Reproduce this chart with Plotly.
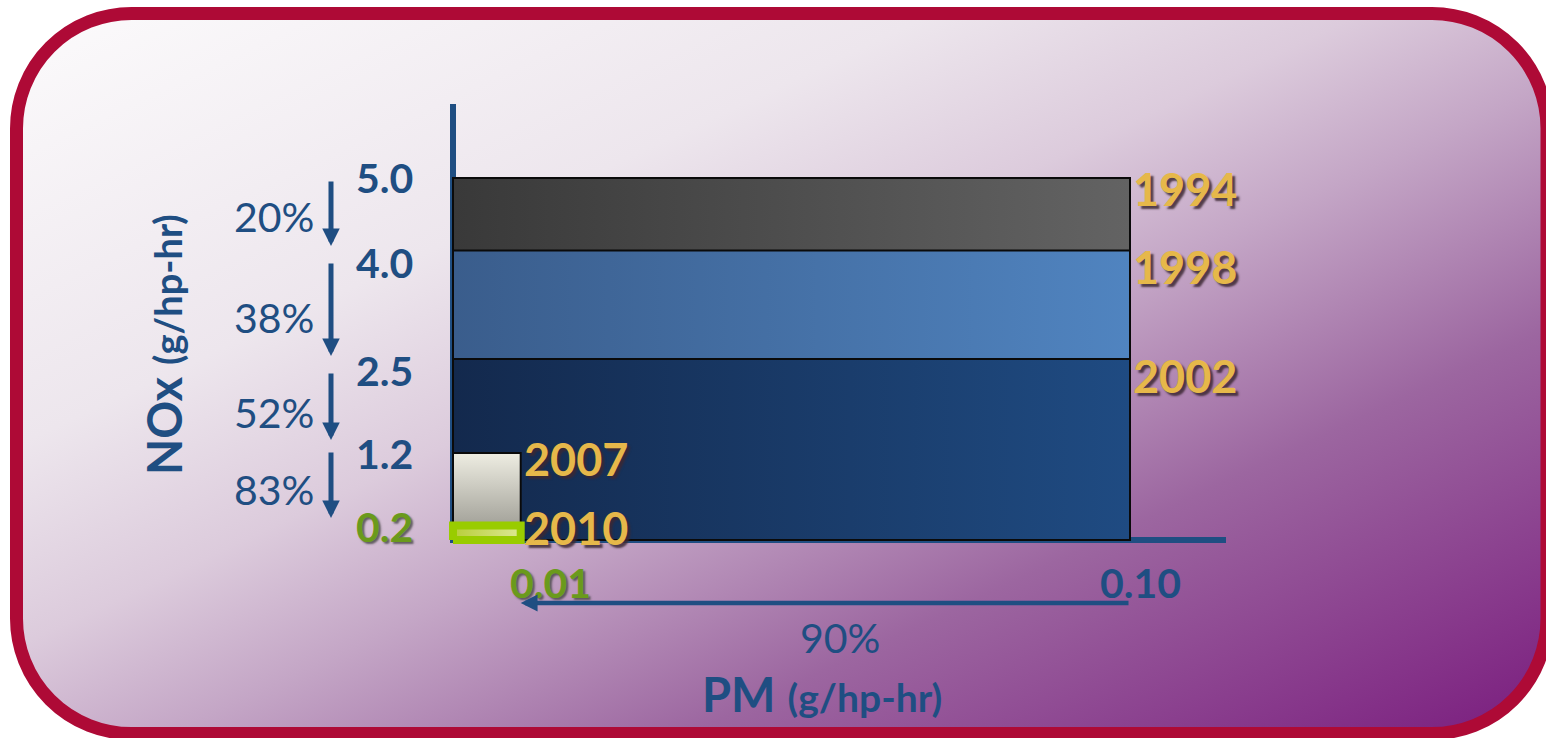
import base64
import plotly.graph_objects as go

# ---------------- data ----------------
years = ["1994", "1998", "2002", "2007", "2010"]
nox_std = [5.0, 4.0, 2.5, 1.2, 0.2]          # g/hp-hr
pm_std = [0.10, 0.10, 0.10, 0.01, 0.01]      # g/hp-hr
nox_ticks = [5.0, 4.0, 2.5, 1.2, 0.2]
nox_tick_text = ["5.0", "4.0", "2.5", "1.2", "0.2"]
pm_ticks = [0.01, 0.10]
pm_tick_text = ["0.01", "0.10"]
nox_cuts = ["20%", "38%", "52%", "83%"]
pm_cut = "90%"

# ---------------- styles ----------------
W, H = 1546, 738
BLUE = "#1F4E82"
GOLD = "#E6B84A"
GREEN = "#6A9A1C"
FONT = "Lato"

box_style = {
    "1994": dict(type="horizontal", colors=["#393939", "#636363"], line="#0a0a0a", lw=2),
    "1998": dict(type="horizontal", colors=["#3a5d8c", "#5084c0"], line="#0a0a0a", lw=2),
    "2002": dict(type="horizontal", colors=["#13294d", "#1f4b82"], line="#0a0a0a", lw=2),
    "2007": dict(type="vertical", colors=["#94938b", "#eeede2"], line="#0a0a0a", lw=2),
    "2010": dict(type="horizontal", colors=["#b8ce3a", "#dce894"], line="#99CC00", lw=8),
}
year_yshift = {"1994": -11, "1998": -17, "2002": -17, "2007": -6, "2010": -2}
tick_yshift = [1, -12, -11, 0, -1]

# axis pixel mapping (margins are 0, so data ranges define the pixel scale)
X0_PX, X_SCALE = 453.0, 6770.0      # px of x=0, px per g/hp-hr
Y0_PX, Y_SCALE = 540.0, 72.4        # px of y=0, px per g/hp-hr
x_range = [(0 - X0_PX) / X_SCALE, (W - X0_PX) / X_SCALE]
y_range = [(Y0_PX - H) / Y_SCALE, Y0_PX / Y_SCALE]


def fx(p):
    return p / W


def fy(p):
    return 1 - p / H


fig = go.Figure()

# boxes, drawn from oldest (largest) to newest (smallest)
for yr, nx, pm in zip(years, nox_std, pm_std):
    st = box_style[yr]
    fig.add_trace(go.Scatter(
        x=[0, pm, pm, 0, 0], y=[0, 0, nx, nx, 0],
        mode="lines", fill="toself",
        line=dict(color=st["line"], width=st["lw"]),
        fillgradient=dict(type=st["type"],
                          colorscale=[[0, st["colors"][0]], [1, st["colors"][1]]]),
        hoverinfo="skip", showlegend=False, name=yr))

annotations = []

# year labels
for yr, nx, pm in zip(years, nox_std, pm_std):
    annotations.append(dict(
        x=pm, y=nx, xref="x", yref="y", text=f"<b>{yr}</b>", showarrow=False,
        xanchor="left", yanchor="middle", xshift=1, yshift=year_yshift[yr],
        font=dict(family=FONT, size=45, color=GOLD,
                  shadow="3px 3px 2px rgba(60,40,50,0.85)")))

# NOx tick labels
for v, t, ys in zip(nox_ticks, nox_tick_text, tick_yshift):
    green = t == "0.2"
    annotations.append(dict(
        x=fx(384), y=v, xref="paper", yref="y", text=f"<b>{t}</b>", showarrow=False,
        xanchor="center", yanchor="middle", yshift=ys,
        font=dict(family=FONT, size=41, color=GREEN if green else BLUE,
                  shadow="2px 2px 2px rgba(70,70,70,0.8)" if green else "none")))

# PM tick labels
for v, t, xs in zip(pm_ticks, pm_tick_text, [30, 10]):
    green = t == "0.01"
    annotations.append(dict(
        x=v, y=fy(582), xref="x", yref="paper", text=f"<b>{t}</b>", showarrow=False,
        xanchor="center", yanchor="middle", xshift=xs,
        font=dict(family=FONT, size=41, color=GREEN if green else BLUE,
                  shadow="2px 2px 2px rgba(70,70,70,0.8)" if green else "none")))

# NOx reduction percentages and arrows
pct_y = [216, 317, 412, 490]
arrow_tail = [180, 262, 372, 451]
arrow_tip = [246, 356, 440, 518]
for t, py_, a0, a1 in zip(nox_cuts, pct_y, arrow_tail, arrow_tip):
    annotations.append(dict(
        x=fx(274), y=fy(py_), xref="paper", yref="paper", text=t, showarrow=False,
        xanchor="center", yanchor="middle",
        font=dict(family=FONT, size=41, color=BLUE)))
    annotations.append(dict(
        x=fx(331), y=fy(a1), xref="paper", yref="paper", text="", showarrow=True,
        ax=0, ay=-(a1 - a0), arrowhead=2, arrowsize=0.7, arrowwidth=5,
        arrowcolor=BLUE))

# PM reduction arrow and percentage
annotations.append(dict(
    x=pm_ticks[0], y=fy(603), xref="x", yref="paper", text="", showarrow=True,
    axref="x", ax=pm_ticks[1], ay=0, arrowhead=2, arrowsize=0.75, arrowwidth=4.5,
    arrowcolor=BLUE))
annotations.append(dict(
    x=fx(840), y=fy(637), xref="paper", yref="paper", text=pm_cut, showarrow=False,
    xanchor="center", yanchor="middle", font=dict(family=FONT, size=41, color=BLUE)))

# axis titles
annotations.append(dict(
    x=fx(822), y=fy(694), xref="paper", yref="paper",
    text="<b>PM</b> <b><span style='font-size:39px'>(g/hp-hr)</span></b>",
    showarrow=False, xanchor="center", yanchor="middle",
    font=dict(family=FONT, size=47, color=BLUE)))
annotations.append(dict(
    x=fx(164), y=fy(345), xref="paper", yref="paper", textangle=-90,
    text="<b>NOx</b> <b><span style='font-size:38px'>(g/hp-hr)</span></b>",
    showarrow=False, xanchor="center", yanchor="middle",
    font=dict(family=FONT, size=47, color=BLUE)))

# axis lines
shapes = [
    dict(type="line", xref="x", yref="paper", x0=0, x1=0, y0=fy(543), y1=fy(104),
         line=dict(color=BLUE, width=6), layer="below"),
    dict(type="line", xref="paper", yref="y", x0=fx(450), x1=fx(1226), y0=0, y1=0,
         line=dict(color=BLUE, width=6), layer="below"),
]

# decorative rounded frame with diagonal gradient
svg = f"""<svg xmlns="http://www.w3.org/2000/svg" width="{W}" height="{H}" viewBox="0 0 {W} {H}" preserveAspectRatio="none">
<defs><linearGradient id="g" x1="0" y1="0" x2="1" y2="1">
<stop offset="0" stop-color="#fcfbfc"/>
<stop offset="0.3" stop-color="#ede6ed"/>
<stop offset="0.44" stop-color="#dccbdc"/>
<stop offset="0.55" stop-color="#c4a6c6"/>
<stop offset="0.72" stop-color="#9c66a0"/>
<stop offset="1" stop-color="#7a1c7e"/>
</linearGradient></defs>
<rect x="0" y="0" width="{W}" height="{H}" fill="#ffffff"/>
<rect x="16.5" y="13.5" width="1530.5" height="720" rx="115" ry="115" fill="url(#g)" stroke="#AE0A36" stroke-width="13"/>
</svg>"""
src = "data:image/svg+xml;base64," + base64.b64encode(svg.encode()).decode()

fig.update_layout(
    width=W, height=H, margin=dict(l=0, r=0, t=0, b=0),
    paper_bgcolor="#ffffff", plot_bgcolor="rgba(0,0,0,0)",
    xaxis=dict(range=x_range, visible=False, fixedrange=True),
    yaxis=dict(range=y_range, visible=False, fixedrange=True),
    showlegend=False, annotations=annotations, shapes=shapes,
    images=[dict(source=src, xref="paper", yref="paper", x=0, y=1, sizex=1, sizey=1,
                 sizing="stretch", xanchor="left", yanchor="top", layer="below")],
)

fig.write_html("out.html", config=dict(displayModeBar=False),
               post_script="document.body.style.margin='0';document.body.style.overflow='hidden';")
